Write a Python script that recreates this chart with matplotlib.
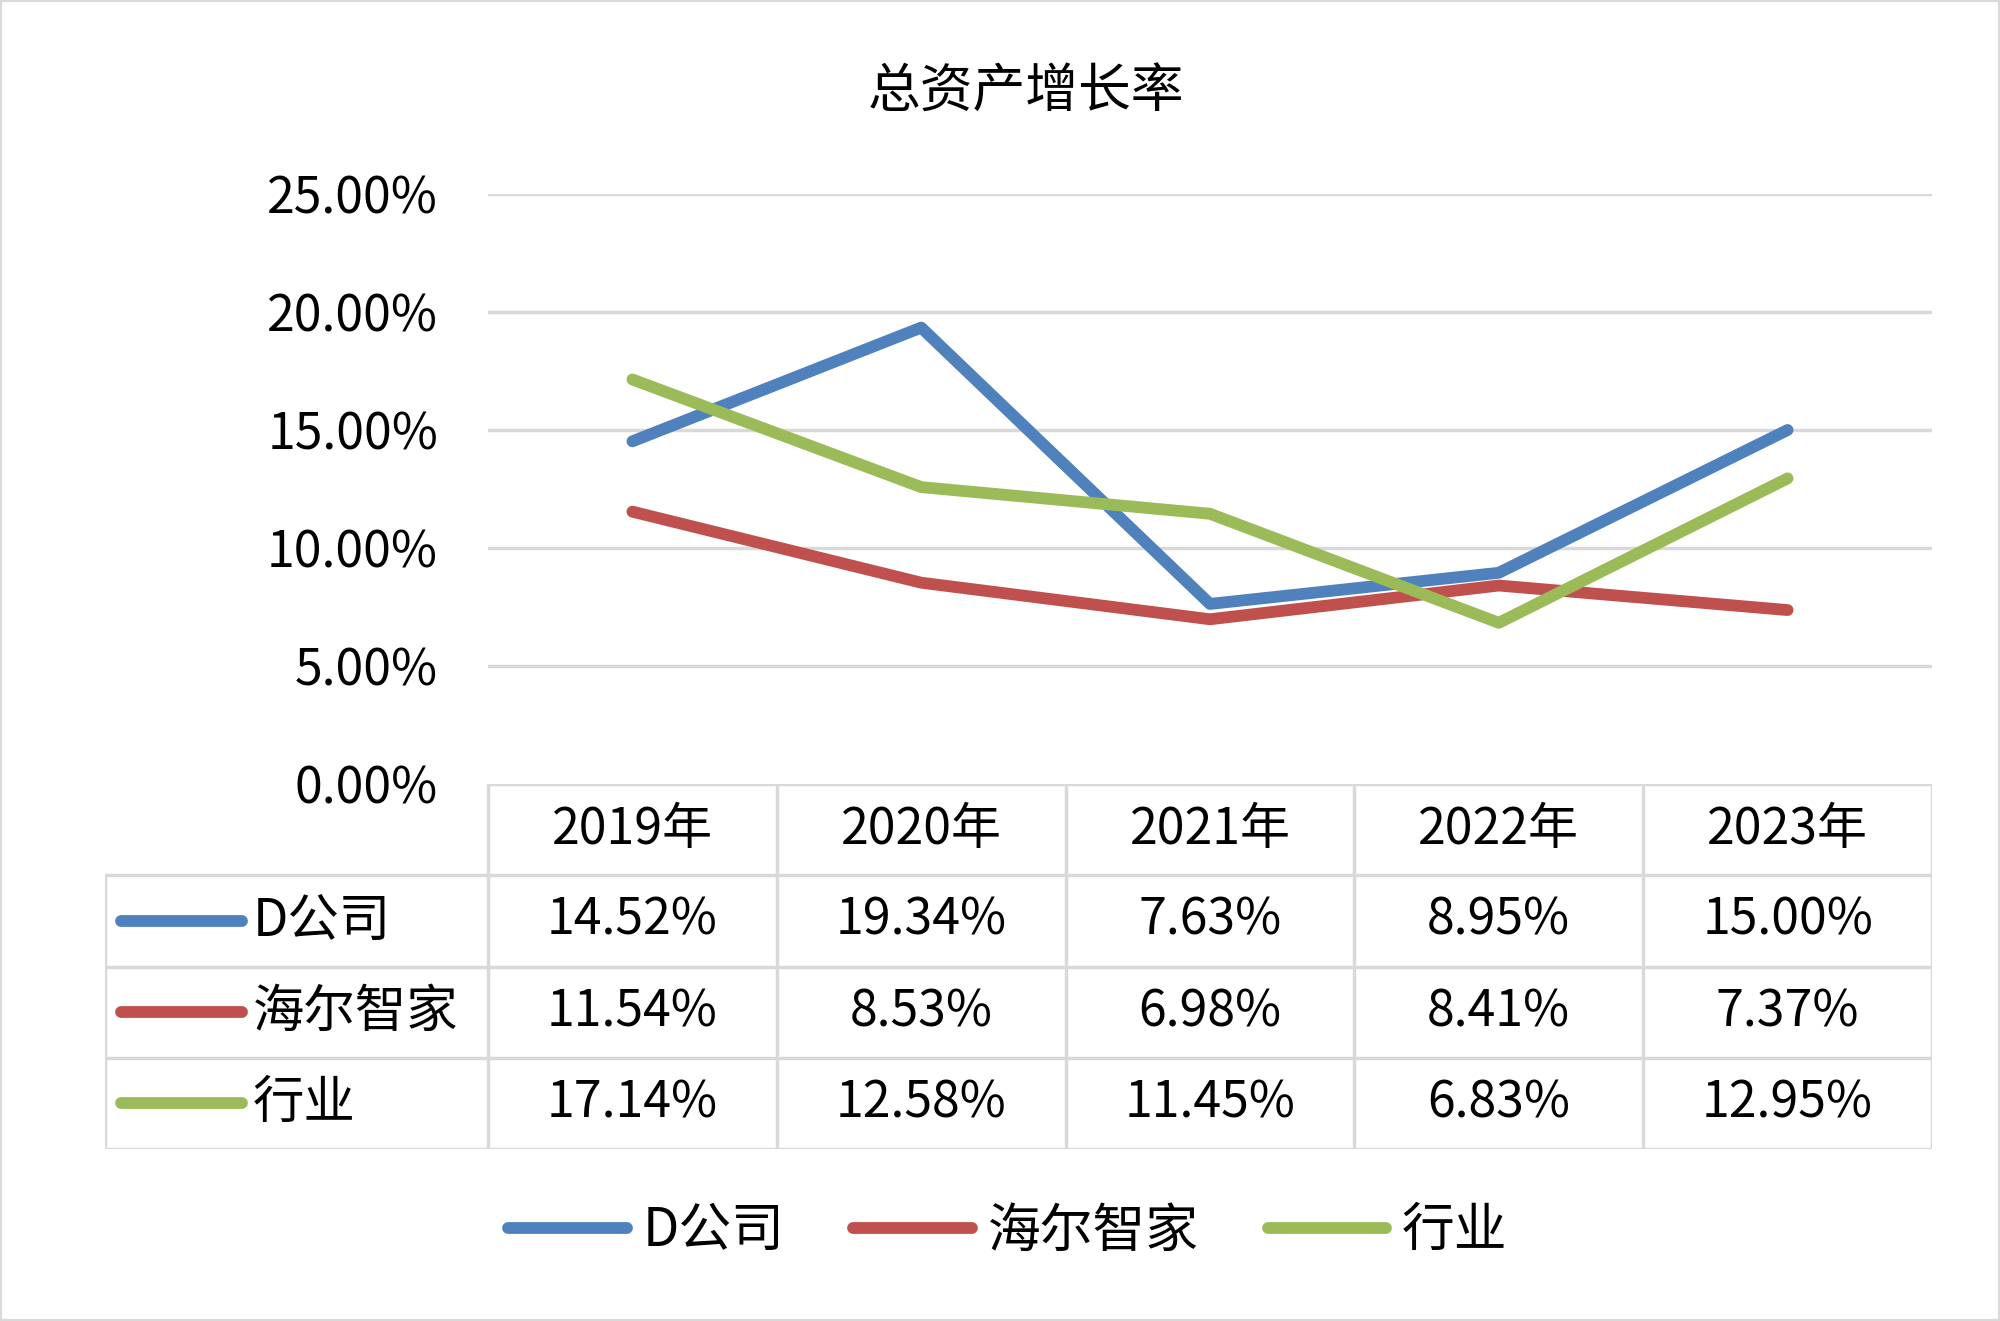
import matplotlib
matplotlib.use("Agg")
import matplotlib.pyplot as plt
from matplotlib.lines import Line2D
from matplotlib.patches import Rectangle

years = ["2019年", "2020年", "2021年", "2022年", "2023年"]
series_names = ["D公司", "海尔智家", "行业"]
d_company = [14.52, 19.34, 7.63, 8.95, 15.00]
haier = [11.54, 8.53, 6.98, 8.41, 7.37]
industry = [17.14, 12.58, 11.45, 6.83, 12.95]
y_ticks = [0, 5, 10, 15, 20, 25]

colors = ["#4f81bd", "#c0504d", "#9bbb59"]
grid_c = "#d9d9d9"
fs = 36
lw = 8.5

plt.rcParams["font.family"] = ["Liberation Sans Narrow", "Noto Sans CJK SC", "DejaVu Sans"]

W, H = 2000, 1321
fig = plt.figure(figsize=(W / 100, H / 100), dpi=100)

# pixel layout of the reference
px_left, px_right = 488, 1932
px_top, px_zero = 194, 784
px_tab_left, px_tab_bottom = 105, 1149

ax = fig.add_axes([px_left / W, 1 - px_zero / H, (px_right - px_left) / W, (px_zero - px_top) / H])
x = list(range(len(years)))
all_series = [d_company, haier, industry]
for vals, name, c in zip(all_series, series_names, colors):
    ax.plot(x, vals, color=c, lw=lw, label=name, solid_capstyle="round", zorder=3)

ax.set_xlim(-0.5, len(years) - 0.5)
ax.set_ylim(0, 25)
ax.set_yticks(y_ticks)
ax.set_yticklabels([f"{v:.2f}%" for v in y_ticks], fontsize=fs)
ax.set_xticks([])
ax.tick_params(axis="y", length=0, pad=36)
for v in y_ticks[1:]:
    ax.axhline(v, color=grid_c, lw=2.5, zorder=1)
for s in ax.spines.values():
    s.set_visible(False)
ax.patch.set_alpha(0)

# data table under the plot
col_w = (px_right - px_left) / len(years)
lab_w = (px_left - px_tab_left) / col_w
axt = fig.add_axes([px_tab_left / W, 1 - px_tab_bottom / H,
                    (px_right - px_tab_left) / W, (px_tab_bottom - px_zero) / H])
x0 = -0.5 - lab_w
axt.set_xlim(x0, len(years) - 0.5)
axt.set_ylim(4, 0)
axt.axis("off")
tl = 2.5
axt.plot([-0.5, len(years) - 0.5], [0, 0], color=grid_c, lw=tl)
for r in range(1, 5):
    axt.plot([x0, len(years) - 0.5], [r, r], color=grid_c, lw=tl)
axt.plot([x0, x0], [1, 4], color=grid_c, lw=tl)
for i in range(len(years) + 1):
    axt.plot([i - 0.5, i - 0.5], [0, 4], color=grid_c, lw=tl)

for i, yr in enumerate(years):
    axt.text(i, 0.5, yr, ha="center", va="center", fontsize=fs)
for r, (vals, name, c) in enumerate(zip(all_series, series_names, colors), start=1):
    axt.plot([x0 + 16 / col_w, x0 + 137 / col_w], [r + 0.5, r + 0.5], color=c, lw=lw,
             solid_capstyle="round")
    axt.text(x0 + 148 / col_w, r + 0.5, name, ha="left", va="center", fontsize=37)
    for i, v in enumerate(vals):
        axt.text(i, r + 0.5, f"{v:.2f}%", ha="center", va="center", fontsize=fs)

# title, legend, border
fig.text(0.513, 1 - 92 / H, "总资产增长率", ha="center", va="center", fontsize=38)
handles = [Line2D([], [], color=c, lw=lw, solid_capstyle="round") for c in colors]
fig.legend(handles, series_names, loc="center", bbox_to_anchor=(0.504, 1 - 1231 / H),
           ncol=3, frameon=False, fontsize=38, handlelength=2.25, handletextpad=0.3,
           columnspacing=1.3)
fig.patches.append(Rectangle((0, 0), 1, 1, transform=fig.transFigure, fill=False,
                             edgecolor=grid_c, lw=3))

fig.savefig("out.png", dpi=100, facecolor="white")
